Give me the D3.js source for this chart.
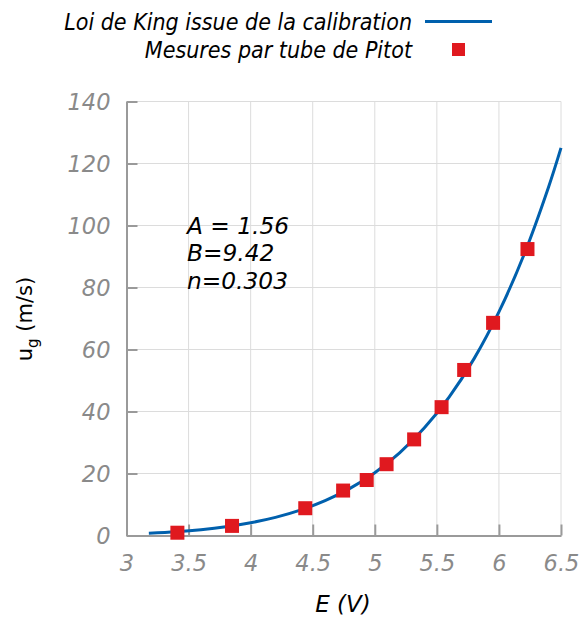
<!DOCTYPE html>
<html><head><meta charset="utf-8">
<script src="https://cdn.jsdelivr.net/npm/d3@7"></script>
<style>body{margin:0;background:#fff}svg{display:block}text{font-family:"DejaVu Sans",sans-serif}</style>
</head><body><svg id="c" width="582" height="618"></svg>
<script>
// Measurements (Pitot tube)
const measE = [3.41, 3.85, 4.44, 4.745, 4.935, 5.095, 5.317, 5.538, 5.72, 5.953, 6.23];
const measU = [0.9, 3.1, 8.8, 14.5, 17.9, 23.0, 31.0, 41.4, 53.4, 68.6, 92.4];
// King's law curve
const curveE = [3.18, 3.4, 3.6, 3.8, 4.0, 4.2, 4.4, 4.6, 4.8, 5.0, 5.2, 5.4, 5.6, 5.8, 6.0, 6.2, 6.4, 6.5];
const curveU = [0.73, 1.22, 1.88, 2.81, 4.10, 5.84, 8.17, 11.23, 15.19, 20.26, 26.68, 34.74, 44.74, 57.06, 72.13, 90.41, 112.45, 125.06];
const xTicks = [3, 3.5, 4, 4.5, 5, 5.5, 6, 6.5];
const yTicks = [0, 20, 40, 60, 80, 100, 120, 140];
const legendLabels = ["Loi de King issue de la calibration", "Mesures par tube de Pitot"];
const paramLines = ["A = 1.56", "B=9.42", "n=0.303"];

const svg = d3.select("#c");
const L = 126.5, R = 561, T = 101.5, B = 535.5;
const x = d3.scaleLinear().domain([3, 6.5]).range([L, R]);
const y = d3.scaleLinear().domain([0, 140]).range([B, T]);

// grid
const g = svg.append("g");
g.selectAll(".vg").data(xTicks.slice(1)).join("line")
  .attr("x1", d => x(d)).attr("x2", d => x(d)).attr("y1", T).attr("y2", B)
  .attr("stroke", "#dcdcdc").attr("stroke-width", 1);
g.selectAll(".hg").data(yTicks.slice(1)).join("line")
  .attr("x1", L).attr("x2", R).attr("y1", d => y(d)).attr("y2", d => y(d))
  .attr("stroke", "#dcdcdc").attr("stroke-width", 1);

// axes
const xAxis = d3.axisBottom(x).tickValues(xTicks).tickSizeInner(-11).tickSizeOuter(0).tickPadding(20).tickFormat(d3.format("~g"));
const yAxis = d3.axisLeft(y).tickValues(yTicks).tickSizeInner(-11).tickSizeOuter(0).tickPadding(16);
const gx = svg.append("g").attr("transform", `translate(0,${B})`).call(xAxis);
const gy = svg.append("g").attr("transform", `translate(${L},0)`).call(yAxis);
[gx, gy].forEach(a => {
  a.select(".domain").attr("stroke", "#9a9a9a").attr("stroke-width", 2);
  a.selectAll(".tick line").attr("stroke", "#9a9a9a").attr("stroke-width", 2);
  a.selectAll(".tick text").attr("fill", "#8a8a8a").attr("font-size", 22.5)
    .attr("font-style", "italic").attr("font-family", "DejaVu Sans");
});
gy.selectAll(".tick text").attr("dy", "0.36em");
gx.selectAll(".tick text").attr("dy", "0.7em");

// curve
const line = d3.line().x(d => x(d[0])).y(d => y(d[1])).curve(d3.curveCatmullRom);
svg.append("path").datum(curveE.map((e, i) => [e, curveU[i]]))
  .attr("d", line).attr("fill", "none").attr("stroke", "#0060ad").attr("stroke-width", 3);

// markers
const ms = 14;
svg.selectAll(".m").data(measE.map((e, i) => [e, measU[i]])).join("rect")
  .attr("x", d => x(d[0]) - ms / 2).attr("y", d => y(d[1]) - ms / 2)
  .attr("width", ms).attr("height", ms).attr("fill", "#e0191f");

// parameter annotation
svg.selectAll(".p").data(paramLines).join("text")
  .attr("x", 187).attr("y", (d, i) => 233.5 + i * 27.5)
  .attr("font-size", 23.3).attr("font-style", "italic").attr("fill", "#000").text(d => d);

// legend
const lf = "'DejaVu Sans Condensed','DejaVu Sans',sans-serif";
svg.append("text").attr("x", 412).attr("y", 30).attr("text-anchor", "end").style("font-family", lf)
  .attr("font-size", 23).attr("font-style", "italic").text(legendLabels[0]);
svg.append("line").attr("x1", 425).attr("x2", 492).attr("y1", 21.5).attr("y2", 21.5)
  .attr("stroke", "#0060ad").attr("stroke-width", 3);
svg.append("text").attr("x", 412).attr("y", 57.5).attr("text-anchor", "end").style("font-family", lf)
  .attr("font-size", 23).attr("font-style", "italic").text(legendLabels[1]);
svg.append("rect").attr("x", 452).attr("y", 43).attr("width", 13).attr("height", 13).attr("fill", "#e0191f");

// axis labels
svg.append("text").attr("x", 343).attr("y", 612).attr("text-anchor", "middle")
  .attr("font-size", 23).attr("font-style", "italic").text("E (V)");
const yl = svg.append("text").attr("transform", "translate(32,319) rotate(-90)")
  .attr("text-anchor", "middle").attr("font-size", 21);
yl.append("tspan").text("u");
yl.append("tspan").attr("font-size", 15).attr("dy", 6).text("g");
yl.append("tspan").attr("dy", -6).text(" (m/s)");
</script></body></html>
